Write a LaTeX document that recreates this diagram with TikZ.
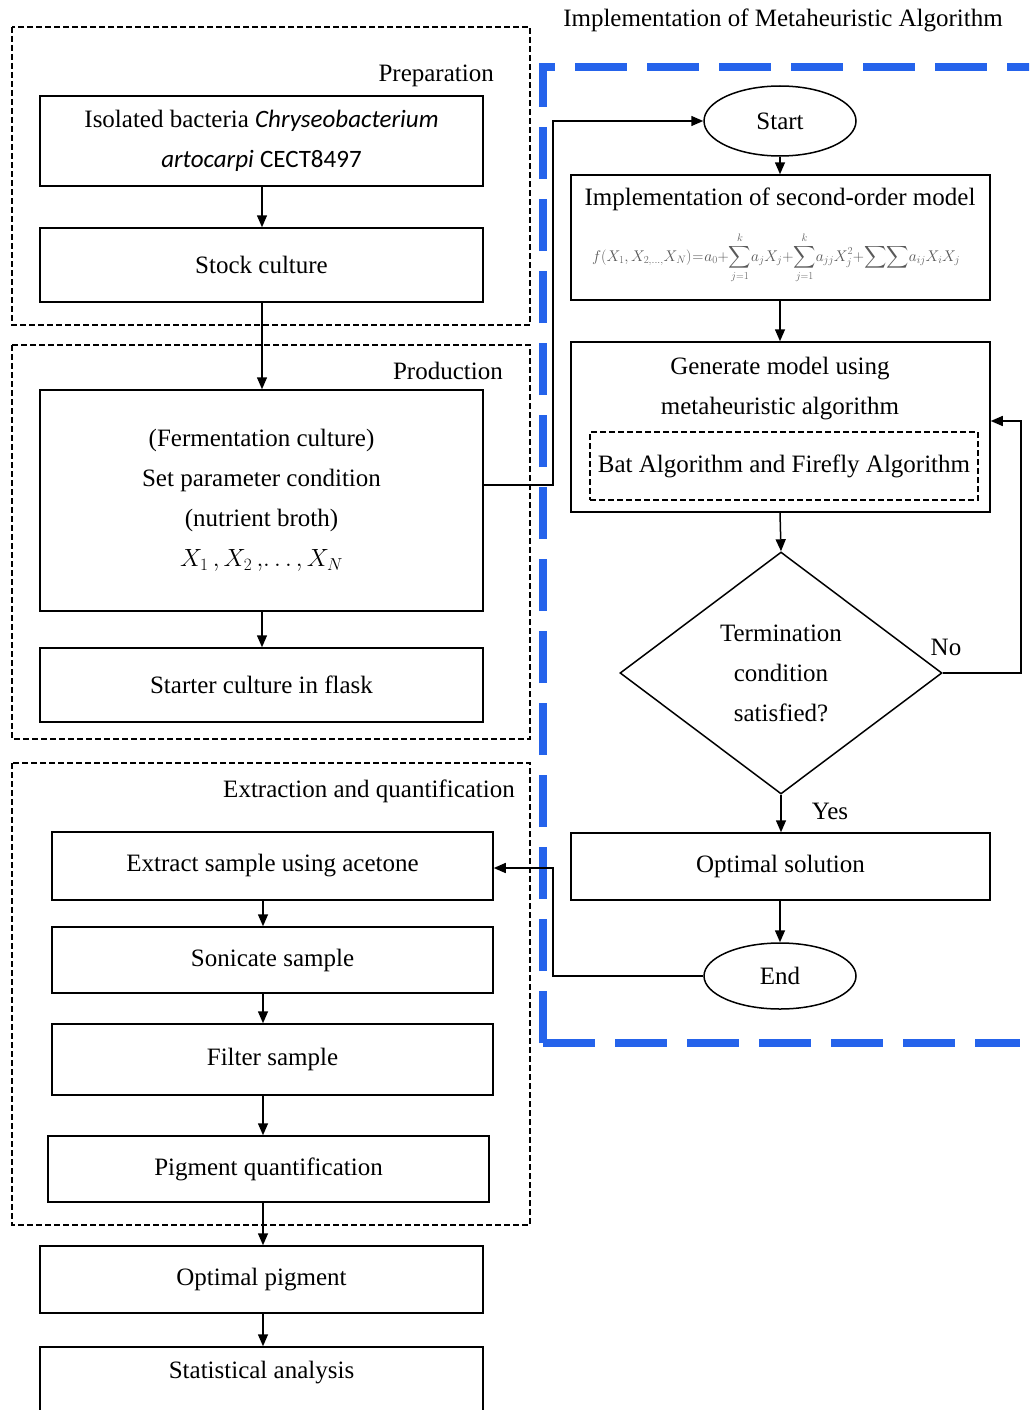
\documentclass[tikz,border=0pt]{standalone}
\usepackage{amsmath}
\usepackage{fontspec}
\setmainfont{Liberation Serif}
\newfontfamily\carl{Carlito}
\usepackage{graphicx}
\usetikzlibrary{arrows.meta,shapes.geometric,calc}
\definecolor{blueD}{RGB}{37,99,235}
\tikzset{
  box/.style={draw, line width=1.5pt, inner sep=0pt, align=center},
  grp/.style={draw, line width=1.2pt, dash pattern=on 6pt off 3pt},
  arr/.style={line width=1.5pt, -{Triangle[length=12pt,width=10pt]}},
  lab/.style={inner sep=0pt},
}
\begin{document}
\begin{tikzpicture}[x=1pt,y=-1pt, every node/.style={font=\fontsize{25}{40}\selectfont}]
\clip (0,0) rectangle (1029,1410);
\fill[white] (0,0) rectangle (1029,1410);

% groups on the left
\draw[grp] (12,27) rectangle (530,325);
\draw[grp] (12,345) rectangle (530,739);
\draw[grp] (12,763) rectangle (530,1225);
\node[lab, anchor=east] (lprep) at (494,76) {Preparation};
\node[lab, anchor=east] (lprod) at (503,371) {Production};
\node[lab, anchor=east] (lextr) at (515,791) {Extraction and quantification};

% blue dashed area
\draw[blueD, line width=8pt, dash pattern=on 52pt off 20pt] (543,1043) -- (543,67) -- (1040,67);
\draw[blueD, line width=8pt, dash pattern=on 52pt off 20pt] (543,1043) -- (1020,1043);
\node[lab] (title) at (783,20) {Implementation of Metaheuristic Algorithm};

% left boxes
\node[box, minimum width=443pt, minimum height=90pt] (b1) at (261.5,141)
  {Isolated bacteria {\carl\itshape Chryseobacterium}\\{\carl\itshape artocarpi} {\carl CECT8497}};
\node[box, minimum width=443pt, minimum height=74pt] (b2) at (261.5,265) {Stock culture};
\node[box, minimum width=443pt, minimum height=221pt] (b3) at (261.5,500.5)
  {(Fermentation culture)\\Set parameter condition\\(nutrient broth)\\$X_1\,,X_2\,,\!\dots,X_N$};
\node[box, minimum width=443pt, minimum height=74pt] (b4) at (261.5,685) {Starter culture in flask};
\node[box, minimum width=441pt, minimum height=68pt] (b5) at (272.5,866) {Extract sample using acetone};
\node[box, minimum width=441pt, minimum height=66pt] (b6) at (272.5,960) {Sonicate sample};
\node[box, minimum width=441pt, minimum height=71pt] (b7) at (272.5,1059.5) {Filter sample};
\node[box, minimum width=441pt, minimum height=66pt] (b8) at (268.5,1169) {Pigment quantification};
\node[box, minimum width=443pt, minimum height=67pt] (b9) at (261.5,1279.5) {Optimal pigment};
\node[box, minimum width=443pt, minimum height=86pt, text depth=40pt] (b10) at (261.5,1390) {Statistical analysis};

\coordinate (ax) at (262,0);
\coordinate (bx) at (263,0);
\draw[arr] (b1.south -| ax) -- (b2.north -| ax);
\draw[arr] (b2.south -| ax) -- (b3.north -| ax);
\draw[arr] (b3.south -| ax) -- (b4.north -| ax);
\draw[arr] (b5.south -| bx) -- (b6.north -| bx);
\draw[arr] (b6.south -| bx) -- (b7.north -| bx);
\draw[arr] (b7.south -| bx) -- (b8.north -| bx);
\draw[arr] (b8.south -| bx) -- (b9.north -| bx);
\draw[arr] (b9.south -| bx) -- (b10.north -| bx);

% right side
\node[box, ellipse, minimum width=152pt, minimum height=70pt] (start) at (780,121) {Start};
\node[box, minimum width=419pt, minimum height=125pt] (impl) at (780.5,237.5) {};
\node[lab] (impltxt) at (780,199) {Implementation of second-order model};
\node[lab, text=black!65] (formula) at (776,258) {\resizebox{368pt}{!}{\medmuskip=0mu\thickmuskip=1mu$\displaystyle f\!\left(X_1,X_{2,\dots,}X_N\right)=a_0+\sum_{j=1}^{k}\!a_jX_j+\sum_{j=1}^{k}\!a_{jj}X_j^2+\sum\!\sum\! a_{ij}X_iX_j$}};
\node[box, minimum width=419pt, minimum height=170pt] (gen) at (780.5,427) {};
\node[lab, align=center] (gentxt) at (780,389) {Generate model using\\metaheuristic algorithm};
\node[grp, inner sep=0pt, minimum width=388pt, minimum height=68pt] (bat) at (784,466) {Bat Algorithm and Firefly Algorithm};
\node[box, diamond, minimum width=322pt, minimum height=242pt] (dia) at (781,673)
  {Termination\\condition\\satisfied?};
\node[box, minimum width=419pt, minimum height=67pt] (opt) at (780.5,866.5) {Optimal solution};
\node[box, ellipse, minimum width=152pt, minimum height=66pt] (end) at (780,976) {End};
\node[lab] (yes) at (830,811) {Yes};
\node[lab] (no) at (946,647) {No};

\draw[arr] (start.south) -- (impl.north -| start.south);
\draw[arr] (impl.south -| start.south) -- (gen.north -| start.south);
\draw[arr] (gen.south -| start.south) -- (dia.north);
\draw[arr] (dia.south) -- (opt.north -| dia.south);
\draw[arr] (opt.south -| end.north) -- (end.north);

\coordinate (j1) at (553,485);
\coordinate (j2) at (553,868);
\coordinate (j3) at (1021,421);
\draw[arr] (b3.east |- j1) -- (j1) |- (start.west);
\draw[arr] (end.west) -| (j2) -- (b5.east |- j2);
\draw[arr] (dia.east) -| (j3) -- (gen.east |- j3);
\end{tikzpicture}
\end{document}
